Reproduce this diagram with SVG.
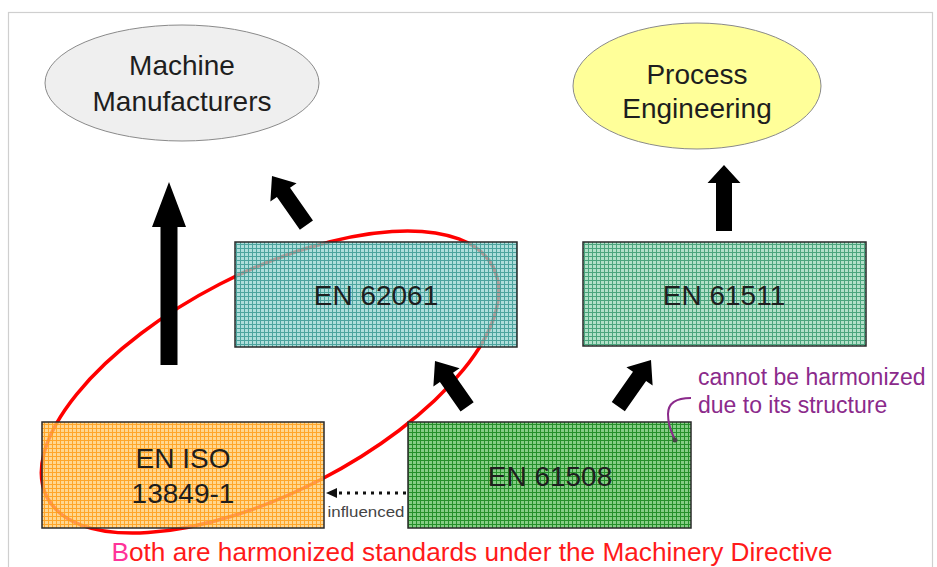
<svg xmlns="http://www.w3.org/2000/svg" width="937" height="567" viewBox="0 0 937 567">
<style>
.lbl{font-family:"Liberation Sans",Arial,sans-serif;font-size:28px;fill:#1e1e1e;text-anchor:middle}
.box{stroke:#2a2a2a;stroke-width:1.5}
.arrow{fill:#000}
.note{font-family:"Liberation Sans",Arial,sans-serif;font-size:23px;fill:#8b2a8b}
</style>
<defs>
<pattern id="pTeal" width="4" height="4" patternUnits="userSpaceOnUse">
<rect width="4" height="4" fill="#93d2cf" opacity="0.75"/>
<path d="M0 0.5H4M0.5 0V4" stroke="#33958f" stroke-width="1" opacity="0.8"/>
</pattern>
<pattern id="pSea" width="4" height="4" patternUnits="userSpaceOnUse">
<rect width="4" height="4" fill="#a4dbbe" opacity="0.85"/>
<path d="M0 0.5H4M0.5 0V4" stroke="#3f9f74" stroke-width="1" opacity="0.9"/>
</pattern>
<pattern id="pGreen" width="4" height="4" patternUnits="userSpaceOnUse">
<rect width="4" height="4" fill="#78c878" opacity="0.9"/>
<path d="M0 0.5H4M0.5 0V4" stroke="#25902a" stroke-width="1"/>
</pattern>
<pattern id="pOrange" width="4" height="4" patternUnits="userSpaceOnUse">
<rect width="4" height="4" fill="#ffc96a" opacity="0.75"/>
<path d="M0 0.5H4M0.5 0V4" stroke="#ff9a10" stroke-width="1" opacity="0.8"/>
</pattern>
</defs>
<rect x="8.5" y="12.5" width="924" height="570" fill="#fff" stroke="#cfcfcf" stroke-width="1.2"/>

<g id="machine-manufacturers">
<ellipse cx="182" cy="83" rx="137" ry="58" fill="#efefef" stroke="#8a8a8a" stroke-width="1"/>
<text class="lbl" x="182" y="75">Machine</text>
<text class="lbl" x="182" y="111">Manufacturers</text>
</g>
<g id="process-engineering">
<ellipse cx="697" cy="86" rx="124" ry="63" fill="#ffff99" stroke="#8a8a8a" stroke-width="1"/>
<text class="lbl" x="697" y="84">Process</text>
<text class="lbl" x="697" y="118">Engineering</text>
</g>

<g id="harmonized-ellipse">
<ellipse cx="270" cy="382" rx="251" ry="110" transform="rotate(-27.3 270 382)" fill="none" stroke="#ff0000" stroke-width="3.5"/>
</g>

<g id="en62061">
<rect class="box" x="235" y="242" width="282" height="105" fill="url(#pTeal)"/>
<text class="lbl" x="376" y="305">EN 62061</text>
</g>
<g id="en61511">
<rect class="box" x="583" y="242" width="283" height="104" fill="url(#pSea)"/>
<text class="lbl" x="724" y="305">EN 61511</text>
</g>
<g id="en-iso-13849">
<rect class="box" x="42" y="422" width="282" height="106" fill="url(#pOrange)"/>
<text class="lbl" x="183" y="468">EN ISO</text>
<text class="lbl" x="183" y="503">13849-1</text>
</g>
<g id="en61508">
<rect class="box" x="408" y="422" width="283" height="106" fill="url(#pGreen)"/>
<text class="lbl" x="550" y="486">EN 61508</text>
</g>

<g id="connectors">
<polygon class="arrow" points="169,182 186,227 177.5,227 177.5,365 160.5,365 160.5,227 152,227"/>
<polygon class="arrow" points="724,165 740.5,183 732,183 732,231 716,231 716,183 707.5,183"/>
<polygon class="arrow" transform="translate(272 176) rotate(-35)" points="0,0 16,20 8,20 8,60 -8,60 -8,20 -16,20"/>
<polygon class="arrow" transform="translate(435 361) rotate(-35)" points="0,0 16,20 8,20 8,56 -8,56 -8,20 -16,20"/>
<polygon class="arrow" transform="translate(651 360) rotate(35)" points="0,0 16,20 8,20 8,57 -8,57 -8,20 -16,20"/>
<polygon points="326,493 337,488 337,498" fill="#111"/>
<line x1="339" y1="493" x2="406" y2="493" stroke="#111" stroke-width="3" stroke-dasharray="3 5"/>
<text x="366" y="517" font-family="Liberation Sans, Arial, sans-serif" font-size="15" fill="#444" text-anchor="middle" textLength="77" lengthAdjust="spacingAndGlyphs">influenced</text>
</g>

<g id="annotation">
<path d="M691 398 C676 398 668 403 668 414 C668 427 672 433 675 440" fill="none" stroke="#8b2a8b" stroke-width="2"/>
<circle cx="675" cy="440" r="2.5" fill="#444"/>
<text class="note" x="698" y="385">cannot be harmonized</text>
<text class="note" x="698" y="413">due to its structure</text>
</g>

<text x="472" y="561" font-family="Liberation Sans, Arial, sans-serif" font-size="25" fill="#ff1a1a" text-anchor="middle" textLength="721" lengthAdjust="spacingAndGlyphs"><tspan fill="#ff3399">B</tspan>oth are harmonized standards under the Machinery Directive</text>
</svg>
